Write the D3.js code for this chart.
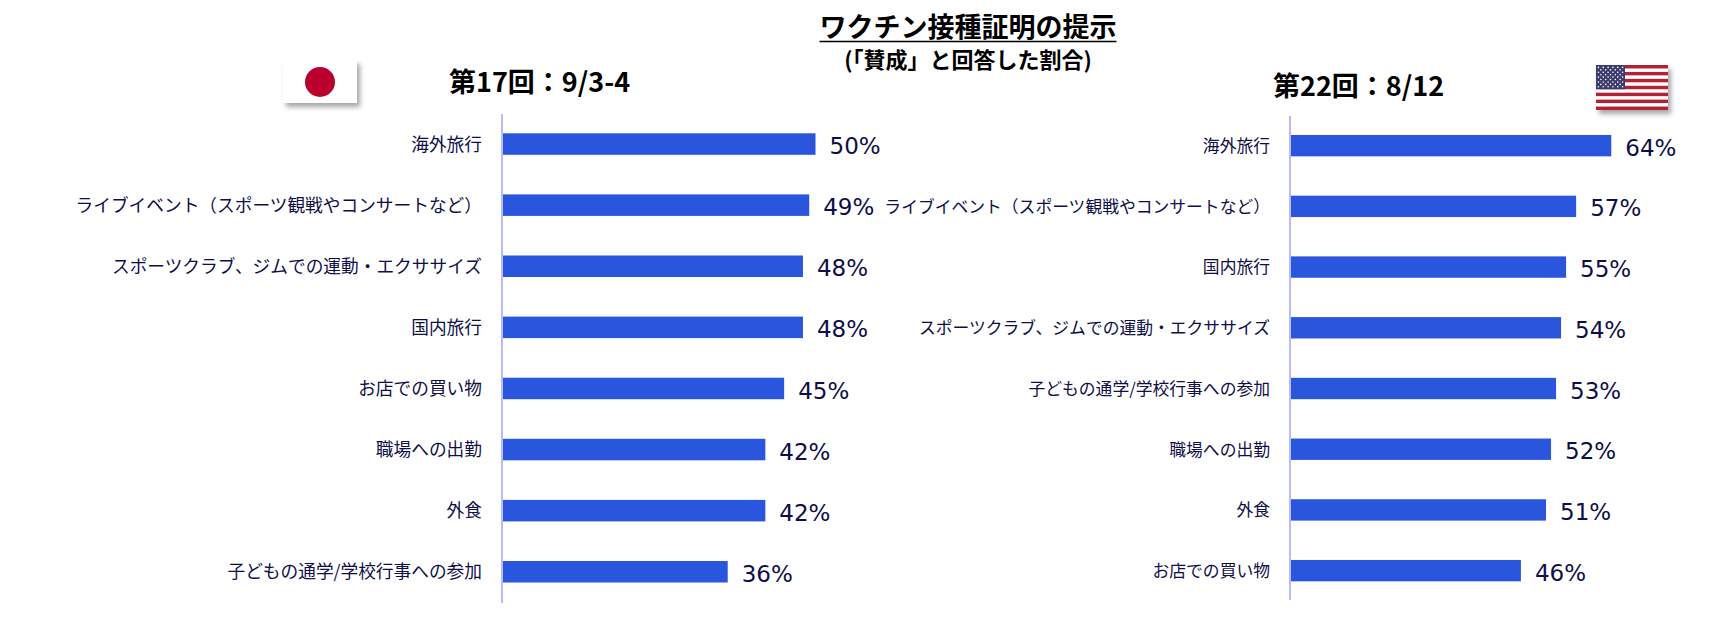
<!DOCTYPE html>
<html>
<head>
<meta charset="utf-8">
<script src="https://cdn.jsdelivr.net/npm/d3@7"></script>
<style>
  body { margin: 0; background: #fff; }
  svg { display: block; }
</style>
</head>
<body>
<svg width="1715" height="622"></svg>
<script>
const w = 1715;
const h = 622;

// data
const title = "ワクチン接種証明の提示";
const subtitle = "(「賛成」と回答した割合)";

const jpRound = "第17回：9/3-4";
const jpCategories = [
  "海外旅行",
  "ライブイベント（スポーツ観戦やコンサートなど）",
  "スポーツクラブ、ジムでの運動・エクササイズ",
  "国内旅行",
  "お店での買い物",
  "職場への出勤",
  "外食",
  "子どもの通学/学校行事への参加"
];
const jpValues = [50, 49, 48, 48, 45, 42, 42, 36];

const usRound = "第22回：8/12";
const usCategories = [
  "海外旅行",
  "ライブイベント（スポーツ観戦やコンサートなど）",
  "国内旅行",
  "スポーツクラブ、ジムでの運動・エクササイズ",
  "子どもの通学/学校行事への参加",
  "職場への出勤",
  "外食",
  "お店での買い物"
];
const usValues = [64, 57, 55, 54, 53, 52, 51, 46];

const barColor = "#2a56de";
const textColor = "#0e0e48";
const jpFont = "'Noto Sans CJK JP', 'Noto Sans', sans-serif";

const svg = d3.select("svg");

const defs = svg.append("defs");
defs.append("filter")
  .attr("id", "shadow")
  .attr("x", "-20%").attr("y", "-20%")
  .attr("width", "150%").attr("height", "160%")
  .append("feDropShadow")
  .attr("dx", 3).attr("dy", 4)
  .attr("stdDeviation", 2.5)
  .attr("flood-color", "#000")
  .attr("flood-opacity", 0.35);

// titles
const tt = svg.append("text")
  .attr("x", 968).attr("y", 37)
  .attr("text-anchor", "middle")
  .attr("font-family", jpFont)
  .attr("font-weight", "bold")
  .attr("font-size", 27)
  .attr("fill", "#000")
  .text(title);
const tb = tt.node().getBBox();
svg.append("line")
  .attr("x1", tb.x).attr("x2", tb.x + tb.width)
  .attr("y1", 41.5).attr("y2", 41.5)
  .attr("stroke", "#000").attr("stroke-width", 1.5);

svg.append("text")
  .attr("x", 968).attr("y", 68)
  .attr("text-anchor", "middle")
  .attr("font-family", jpFont)
  .attr("font-weight", "bold")
  .attr("font-size", 22)
  .attr("fill", "#000")
  .text(subtitle);

function panel(cfg) {
  const x = d3.scaleLinear().domain([0, 100]).range([cfg.x0, cfg.x0 + cfg.perPct * 100]);
  const y = d3.scaleBand()
    .domain(cfg.categories)
    .range(cfg.yRange)
    .paddingInner(0.648)
    .paddingOuter(0.324);

  const rows = cfg.categories.map((c, i) => ({ name: c, value: cfg.values[i] }));

  const g = svg.append("g");

  g.selectAll("rect.bar")
    .data(rows)
    .enter().append("rect")
    .attr("class", "bar")
    .attr("x", x(0))
    .attr("y", d => y(d.name))
    .attr("width", d => x(d.value) - x(0))
    .attr("height", y.bandwidth())
    .attr("fill", barColor);

  g.append("line")
    .attr("x1", x(0)).attr("x2", x(0))
    .attr("y1", cfg.axis[0]).attr("y2", cfg.axis[1])
    .attr("stroke", "#b8bbf6")
    .attr("stroke-width", 2);

  g.selectAll("text.cat")
    .data(rows)
    .enter().append("text")
    .attr("class", "cat")
    .attr("x", x(0) - 20)
    .attr("y", d => y(d.name) + y.bandwidth() / 2)
    .attr("dy", "0.38em")
    .attr("text-anchor", "end")
    .attr("font-family", jpFont)
    .attr("font-size", cfg.catSize)
    .attr("fill", textColor)
    .text(d => d.name);

  g.selectAll("text.val")
    .data(rows)
    .enter().append("text")
    .attr("class", "val")
    .attr("x", d => x(d.value) + 14)
    .attr("y", d => y(d.name) + y.bandwidth() / 2)
    .attr("dy", "0.44em")
    .attr("font-family", "'DejaVu Sans', Verdana, sans-serif")
    .attr("font-size", 23)
    .attr("fill", textColor)
    .text(d => d.value + "%");

  svg.append("text")
    .attr("x", cfg.roundX).attr("y", cfg.roundY)
    .attr("font-family", jpFont)
    .attr("font-weight", "bold")
    .attr("font-size", 27)
    .attr("fill", "#000")
    .text(cfg.round);
}

panel({
  categories: jpCategories, values: jpValues,
  x0: 502, perPct: 6.27,
  yRange: [113.5, 602.3], axis: [114, 603],
  catSize: 17.7,
  round: jpRound, roundX: 449, roundY: 92
});

panel({
  categories: usCategories, values: usValues,
  x0: 1290, perPct: 5.02,
  yRange: [115.3, 601], axis: [116, 600],
  catSize: 16.8,
  round: usRound, roundX: 1273, roundY: 96
});

// Japan flag
const jp = svg.append("g").attr("transform", "translate(283,60)");
jp.append("rect").attr("width", 74).attr("height", 43).attr("fill", "#fff")
  .attr("filter", "url(#shadow)");
jp.append("circle").attr("cx", 37).attr("cy", 22).attr("r", 15).attr("fill", "#bc002d");

// US flag
const fw = 72, fh = 45;
const us = svg.append("g").attr("transform", "translate(1596,65)");
us.append("rect").attr("width", fw).attr("height", fh).attr("fill", "#fff")
  .attr("filter", "url(#shadow)");
const stripe = d3.scaleBand().domain(d3.range(13)).range([0, fh]);
us.selectAll("rect.stripe")
  .data(d3.range(13).filter(i => i % 2 === 0))
  .enter().append("rect")
  .attr("x", 0).attr("y", i => stripe(i))
  .attr("width", fw).attr("height", stripe.bandwidth())
  .attr("fill", "#b22234");
const cw = 29, ch = stripe(7);
us.append("rect").attr("width", cw).attr("height", ch).attr("fill", "#3c3b6e");
const stars = [];
for (let r = 0; r < 9; r++) {
  const n = r % 2 === 0 ? 6 : 5;
  for (let c = 0; c < n; c++) {
    const col = r % 2 === 0 ? c * 2 : c * 2 + 1;
    stars.push([(col + 1) * cw / 12, (r + 1) * ch / 10]);
  }
}
us.selectAll("circle.star")
  .data(stars)
  .enter().append("circle")
  .attr("cx", d => d[0]).attr("cy", d => d[1])
  .attr("r", 0.8).attr("fill", "#fff");
</script>
</body>
</html>
